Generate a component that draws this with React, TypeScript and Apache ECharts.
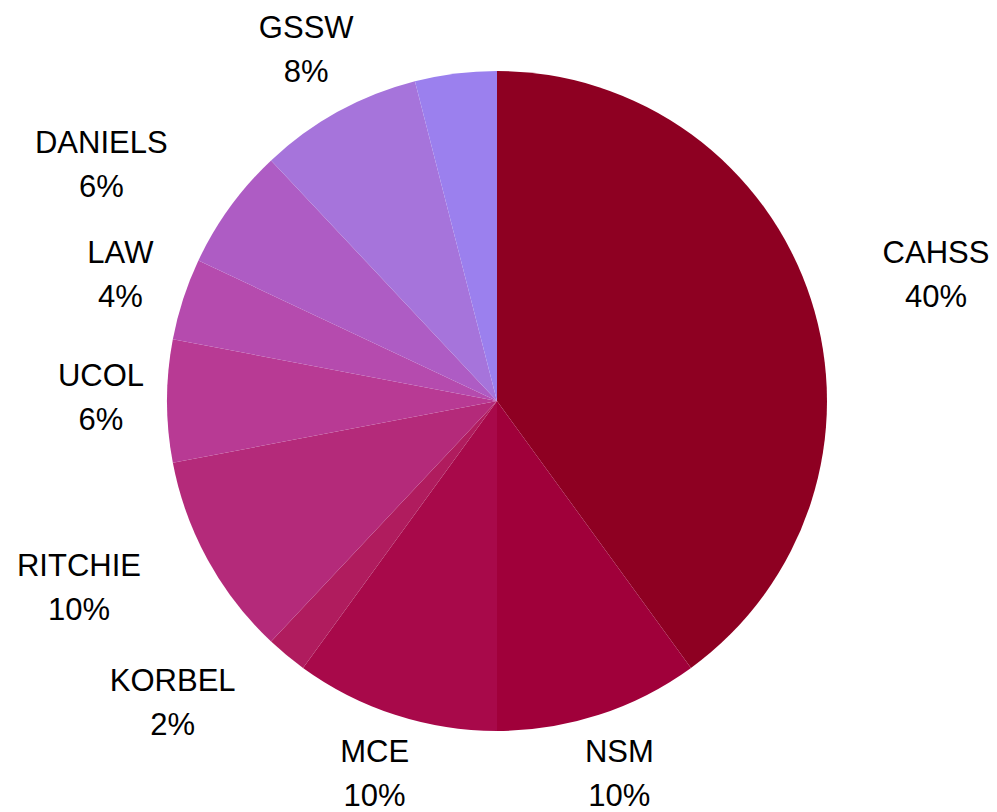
import React, { useEffect, useRef } from "react";
import * as echarts from "echarts";

const categories = ["CAHSS", "NSM", "MCE", "KORBEL", "RITCHIE", "UCOL", "LAW", "DANIELS", "GSSW", ""];
const values = [40, 10, 10, 2, 10, 6, 4, 6, 8, 4];
const colors = [
  "#8E0022", "#A0003A", "#A8094A", "#B01C5E", "#B42A7A",
  "#B83A94", "#B54BAE", "#AE5CC4", "#A674DB", "#9B80EE",
];

const CX = 497;
const CY = 401;
const R = 330;
const LABEL_R = 396;
const INK_HALF_H = 33;
const CLEARANCE = 10;
const EDGE_PAD = 9;
const TEXT_DY = -4;

export default function App() {
  const ref = useRef<HTMLDivElement>(null);
  useEffect(() => {
    document.body.style.margin = "0";
    const chart = echarts.init(ref.current!, undefined, { renderer: "svg" });
    const total = values.reduce((a, b) => a + b, 0);
    const mids: number[] = [];
    let acc = 0;
    values.forEach((v) => {
      mids.push(((acc + v / 2) / total) * 360);
      acc += v;
    });
    chart.setOption({
      animation: false,
      backgroundColor: "#ffffff",
      series: [
        {
          type: "pie",
          center: [CX, CY],
          radius: R,
          startAngle: 90,
          clockwise: true,
          avoidLabelOverlap: false,
          itemStyle: { borderWidth: 0 },
          label: {
            show: true,
            position: "outside",
            formatter: "{n|{b}}\n{n|{c}%}",
            color: "#000",
            fontFamily: "Liberation Sans",
            rich: {
              n: {
                align: "center",
                fontSize: 31,
                lineHeight: 44,
                fontFamily: "Liberation Sans",
                color: "#000",
              },
            },
          },
          labelLine: { show: false, length: 30, length2: 0 },
          labelLayout: (params: any) => {
            const theta = (mids[params.dataIndex] * Math.PI) / 180;
            const sx = Math.sin(theta);
            const sy = -Math.cos(theta);
            const ax = CX + LABEL_R * sx;
            const ay = CY + LABEL_R * sy;
            const hw = (params.labelRect?.width ?? 0) / 2;
            // nearest point of a centred label to the pie centre
            const nx = Math.min(Math.max(CX, ax - hw), ax + hw);
            const ny = Math.min(Math.max(CY, ay - INK_HALF_H), ay + INK_HALF_H);
            const d = Math.hypot(nx - CX, ny - CY);
            let align = "center";
            let x = ax;
            if (d < R + CLEARANCE) {
              align = sx >= 0 ? "left" : "right";
              x = ax + (sx >= 0 ? EDGE_PAD : -EDGE_PAD);
            }
            return { x, y: ay + TEXT_DY, align, verticalAlign: "middle" };
          },
          data: categories.map((name, i) => ({
            name,
            value: values[i],
            itemStyle: { color: colors[i] },
            label: { show: name !== "" },
          })),
        },
      ],
    });
    return () => chart.dispose();
  }, []);
  return <div ref={ref} style={{ width: 997, height: 812 }} />;
}
